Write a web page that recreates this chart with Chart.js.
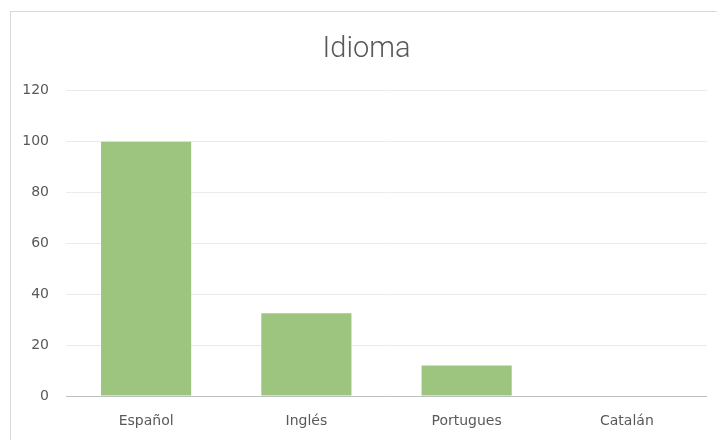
<!DOCTYPE html>
<html><head><meta charset="utf-8">
<script src="https://cdn.jsdelivr.net/npm/chart.js@4"></script>
<style>
html,body{margin:0;padding:0;background:#fff;width:717px;height:440px;overflow:hidden}
#box{position:absolute;left:10px;top:11px;width:711px;height:428px;border-left:1px solid #d9d9d9;border-top:1px solid #d9d9d9;}
</style></head>
<body>
<div id="box"><canvas id="c" width="711" height="428"></canvas></div>
<script>
const categories = ["Español", "Inglés", "Portugues", "Catalán"];
const values = [100, 32.5, 12, 0];
const yTicks = [0, 20, 40, 60, 80, 100, 120];
const title = "Idioma";

new Chart(document.getElementById('c'), {
  type: 'bar',
  data: {
    labels: categories,
    datasets: [{ data: values, backgroundColor: '#9DC57F', borderWidth: 0,
      categoryPercentage: 1, barPercentage: 0.5625 }]
  },
  options: {
    responsive: false, animation: false,
    layout: { padding: { left: 0, right: 0, top: 0, bottom: 0 } },
    plugins: {
      legend: { display: false }, tooltip: { enabled: false },
      title: { display: true, text: title, color: '#595959',
        font: { family: 'Roboto', size: 29, weight: 300 },
        padding: { top: 20, bottom: 24 } }
    },
    scales: {
      x: {
        grid: { display: false, drawTicks: false },
        border: { display: false },
        ticks: { color: '#595959', font: { family: 'DejaVu Sans', size: 14 }, padding: 17 },
        afterFit: s => { s.height = 44; }
      },
      y: {
        min: 0, max: 120,
        afterBuildTicks: s => { s.ticks = yTicks.map(v => ({ value: v })); },
        grid: { color: c => c.tick.value === 0 ? '#bfbfbf' : '#ebebeb', drawTicks: false },
        border: { display: false },
        ticks: { color: '#595959', font: { family: 'DejaVu Sans', size: 14 }, padding: 17 },
        afterFit: s => { s.width = 55; }
      },
      yRightSpace: {
        type: 'linear', position: 'right', min: 0, max: 1,
        grid: { display: false, drawTicks: false },
        border: { display: false },
        ticks: { display: false },
        afterFit: s => { s.width = 15; }
      }
    }
  }
});
</script>
</body></html>
